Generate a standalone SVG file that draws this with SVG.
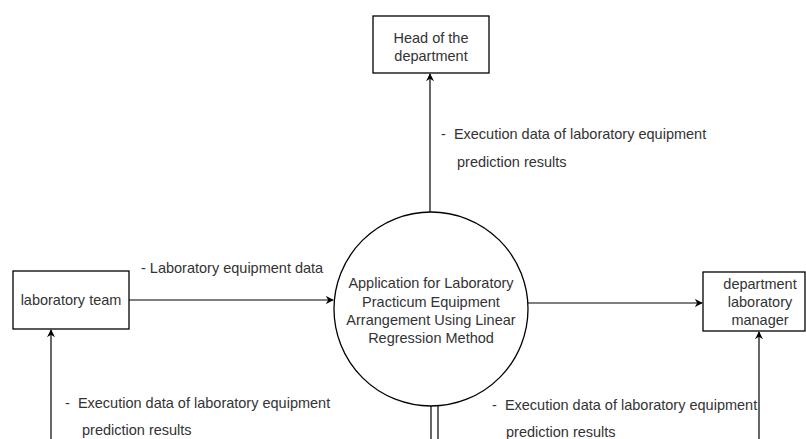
<svg xmlns="http://www.w3.org/2000/svg" width="806" height="439" viewBox="0 0 806 439">
<style>
.box{fill:#fff;stroke:#000;stroke-width:1.3}
.t{font-family:"Liberation Sans",Arial,sans-serif;font-size:14.5px;fill:#333;white-space:pre}
.c{text-anchor:middle}
.ln{stroke:#000;stroke-width:1.2;fill:none}
</style>
<defs>
<marker id="ah" viewBox="0 0 10 10" refX="9" refY="5" markerWidth="8" markerHeight="8" markerUnits="userSpaceOnUse" orient="auto">
<path d="M0,0 L10,5 L0,10 L3,5 Z" fill="#000"/>
</marker>
</defs>
<rect width="806" height="439" fill="#fff"/>
<g id="connectors">
<line class="ln" x1="430" y1="212" x2="430" y2="74" marker-end="url(#ah)"/>
<line class="ln" x1="129" y1="300" x2="333" y2="300" marker-end="url(#ah)"/>
<line class="ln" x1="528" y1="303" x2="702" y2="303" marker-end="url(#ah)"/>
<line class="ln" x1="51" y1="439" x2="51" y2="330" marker-end="url(#ah)"/>
<line class="ln" x1="759" y1="439" x2="759" y2="332" marker-end="url(#ah)"/>
<line class="ln" x1="431" y1="405" x2="431" y2="439"/>
<line class="ln" x1="438" y1="404" x2="438" y2="439"/>
<text class="t" x="441" y="139">-  Execution data of laboratory equipment</text>
<text class="t" x="457" y="167">prediction results</text>
<text class="t" x="141" y="273">- Laboratory equipment data</text>
<text class="t" x="65" y="408">-  Execution data of laboratory equipment</text>
<text class="t" x="82" y="435">prediction results</text>
<text class="t" x="492" y="410">-  Execution data of laboratory equipment</text>
<text class="t" x="506" y="437">prediction results</text>
</g>
<g id="head">
<rect class="box" x="373" y="16" width="116" height="57"/>
<text class="t c" x="431" y="43">Head of the</text>
<text class="t c" x="431" y="61">department</text>
</g>
<g id="process">
<circle class="box" cx="431" cy="309" r="97"/>
<text class="t c" x="431" y="288">Application for Laboratory</text>
<text class="t c" x="431" y="307">Practicum Equipment</text>
<text class="t c" x="431" y="325">Arrangement Using Linear</text>
<text class="t c" x="431" y="343">Regression Method</text>
</g>
<g id="labteam">
<rect class="box" x="13" y="271" width="116" height="58"/>
<text class="t c" x="71" y="305">laboratory team</text>
</g>
<g id="manager">
<rect class="box" x="703" y="272" width="102" height="59"/>
<text class="t c" x="760" y="289">department</text>
<text class="t c" x="760" y="307">laboratory</text>
<text class="t c" x="760" y="325">manager</text>
</g>
</svg>
